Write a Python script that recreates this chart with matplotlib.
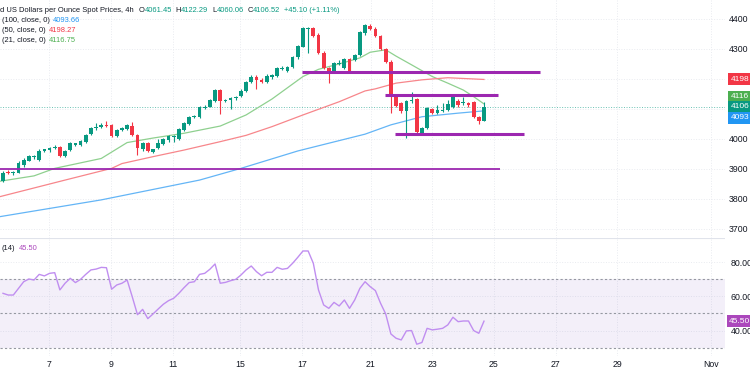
import matplotlib.pyplot as plt
import matplotlib.transforms as mtransforms

plt.rcParams['font.family'] = ['Liberation Sans', 'DejaVu Sans']

# 4h candles, Oct 6 - Oct 24
opens = [3861, 3890, 3886, 3888, 3912, 3928, 3939, 3930, 3961, 3962,
         3970, 3972, 3943, 3963, 3981, 3980, 3991, 4016, 4035, 4040,
         4048, 4047, 4011, 4030, 4033, 4043, 4013, 3966, 3988, 3958,
         3969, 3983, 3995, 4005, 3999, 4030, 4050, 4073, 4074, 4103,
         4108, 4127, 4163, 4126, 4130, 4135, 4143, 4161, 4191, 4207,
         4197, 4191, 4208, 4210, 4233, 4227, 4241, 4272, 4308, 4366,
         4369, 4347, 4288, 4236, 4224, 4250, 4236, 4266, 4263, 4280,
         4352, 4378, 4367, 4344, 4300, 4258, 4141, 4120, 4093, 4126,
         4133, 4019, 4036, 4100, 4087, 4093, 4097, 4108, 4128, 4119,
         4120, 4122, 4074, 4061.45]
highs = [3892, 3895, 3893, 3925, 3935, 3948, 3946, 3966, 3968, 3974,
         3980, 3978, 3963, 3991, 3988, 3996, 4016, 4040, 4052, 4052,
         4060, 4050, 4034, 4040, 4049, 4058, 4018, 3991, 3991, 3968,
         4000, 4004, 4013, 4013, 4036, 4055, 4076, 4080, 4110, 4112,
         4133, 4168, 4168, 4134, 4140, 4142, 4165, 4194, 4212, 4214,
         4202, 4215, 4216, 4240, 4242, 4244, 4278, 4314, 4374, 4374,
         4374, 4352, 4292, 4240, 4256, 4262, 4270, 4270, 4284, 4360,
         4384, 4382, 4372, 4348, 4304, 4262, 4145, 4124, 4130, 4158,
         4137, 4040, 4106, 4104, 4112, 4120, 4130, 4150, 4133, 4140,
         4124, 4126, 4078, 4122.29]
lows = [3858, 3882, 3880, 3885, 3908, 3925, 3934, 3925, 3955, 3958,
        3966, 3940, 3940, 3960, 3977, 3977, 3988, 4012, 4030, 4036,
        4040, 4006, 4008, 4026, 4030, 4010, 3947, 3960, 3955, 3952,
        3965, 3980, 3991, 3990, 3996, 4026, 4046, 4069, 4071, 4100,
        4105, 4124, 4083, 4122, 4100, 4131, 4140, 4158, 4188, 4167,
        4188, 4188, 4200, 4207, 4230, 4224, 4238, 4268, 4305, 4285,
        4340, 4284, 4232, 4188, 4220, 4245, 4232, 4220, 4259, 4276,
        4348, 4362, 4340, 4296, 4254, 4087, 4105, 4088, 4004, 4120,
        4018, 4014, 4032, 4082, 4083, 4089, 4093, 4104, 4106, 4112,
        4108, 4070, 4050, 4060.06]
closes = [3888, 3886, 3889, 3921, 3930, 3943, 3943, 3961, 3965, 3970,
          3973, 3944, 3960, 3988, 3985, 3993, 4013, 4036, 4040, 4048,
          4044, 4011, 4030, 4035, 4046, 4013, 3969, 3988, 3960, 3965,
          3988, 3999, 4010, 4010, 4032, 4052, 4072, 4077, 4106, 4108,
          4130, 4163, 4127, 4130, 4135, 4139, 4161, 4190, 4208, 4197,
          4191, 4211, 4212, 4236, 4237, 4240, 4274, 4310, 4369, 4369,
          4343, 4288, 4236, 4227, 4252, 4254, 4266, 4224, 4280, 4355,
          4380, 4367, 4344, 4300, 4258, 4147, 4111, 4093, 4127, 4129,
          4024, 4036, 4103, 4087, 4097, 4097, 4117, 4141, 4112, 4121,
          4112, 4074, 4061, 4106.52]

# moving averages read at selected bars
ma21_bars = [-1, 6, 10, 19, 24, 29, 35, 42, 47, 52, 58, 61, 65, 69, 71, 74, 76, 79, 83, 86, 89, 91, 93]
ma21_vals = [3858, 3877, 3902, 3935, 3988, 4003, 4019, 4043, 4080, 4133, 4208, 4232, 4250, 4270, 4289,
             4297, 4276, 4247, 4208, 4186, 4163, 4141, 4116.75]
ma50_bars = [-1, 12, 21, 23, 29, 35, 42, 47, 52, 58, 65, 70, 72, 76, 81, 86, 93]
ma50_vals = [3806, 3863, 3902, 3918, 3941, 3963, 3991, 4012, 4041, 4080, 4124, 4160, 4167, 4186, 4197, 4204, 4198.27]
ma100_bars = [-1, 19, 38, 46, 57, 70, 75, 81, 88, 93]
ma100_vals = [3740, 3797, 3863, 3902, 3960, 4016, 4047, 4074, 4086, 4093.66]

# RSI(14)
rsi = [61.8, 60.8, 60.8, 64.7, 68.6, 70.2, 69.6, 72.9, 72.0, 73.5,
       73.9, 63.8, 67.7, 70.6, 68.1, 70.0, 72.9, 75.5, 76.0, 77.0,
       76.8, 64.2, 66.7, 67.7, 69.6, 59.7, 49.3, 52.4, 47.0, 49.7,
       52.6, 55.4, 57.5, 58.9, 61.8, 65.1, 68.1, 68.6, 72.9, 73.5,
       75.9, 79.0, 67.7, 68.2, 69.2, 70.0, 72.5, 75.5, 77.8, 74.5,
       72.1, 74.1, 74.1, 77.0, 75.9, 76.4, 79.4, 82.9, 86.6, 86.6,
       79.4, 63.8, 55.0, 53.0, 56.5, 54.4, 57.9, 53.0, 57.9, 64.7,
       68.6, 65.7, 63.4, 56.0, 49.7, 38.0, 35.5, 34.5, 39.8, 40.0,
       32.0, 33.0, 41.3, 40.4, 40.8, 41.3, 43.3, 47.8, 45.2, 45.6,
       45.6, 40.0, 38.4, 45.5]

# hand-drawn levels: (price, first bar, last bar, width)
levels = [(3900, -1, 96, 1.3), (4222, 57.8, 103.8, 2.2), (4147, 73.9, 95.8, 2.2), (4016, 75.8, 100.8, 2.2)]

price_ticks = [3700, 3800, 3900, 4000, 4100, 4200, 4300, 4400]
price_labels = ['3700', '3800', '3900', '4000', '', '', '4300', '4400']
date_labels = ['7', '9', '11', '15', '17', '21', '23', '25', '27', '29', 'Nov']
date_pos = [8.9, 20.8, 32.9, 45.9, 57.9, 71.1, 83.0, 94.9, 106.9, 118.8, 136.9]

GREEN = '#089981'
RED = '#f23645'
DARK = '#131722'
GRID = '#e9ebf0'

fig = plt.figure(figsize=(7.5, 3.75), dpi=100)
ax = fig.add_axes([0, 137 / 375, 725 / 750, 238 / 375])
rx = fig.add_axes([0, 19 / 375, 725 / 750, 118 / 375])

for a in (ax, rx):
    for s in a.spines.values():
        s.set_visible(False)
    a.set_xlim(-0.58, 139.6)
    a.set_xticks(date_pos)
    a.grid(True, color=GRID, linestyle=':', linewidth=0.7)
    a.set_axisbelow(True)
    a.yaxis.tick_right()
    a.tick_params(length=0, labelsize=6.3, labelcolor=DARK)

ax.set_ylim(3670, 4463)
ax.set_yticks(price_ticks)
ax.set_yticklabels(price_labels)
ax.tick_params(axis='y', pad=3)
ax.set_xticklabels([])

# candles
idx = list(range(len(closes)))
cols = [GREEN if c >= o else RED for o, c in zip(opens, closes)]
ax.vlines(idx, lows, highs, colors=cols, linewidth=0.8, zorder=3)
bodies = [max(abs(c - o), 2.5) for o, c in zip(opens, closes)]
bottoms = [min(o, c) for o, c in zip(opens, closes)]
ax.bar(idx, bodies, bottom=bottoms, width=0.72, color=cols, zorder=4)

ax.plot(ma21_bars, ma21_vals, color='#8fd08f', lw=0.9, zorder=2)
ax.plot(ma50_bars, ma50_vals, color='#f7868b', lw=0.9, zorder=2)
ax.plot(ma100_bars, ma100_vals, color='#64b5f6', lw=0.9, zorder=2)

for price, x0, x1, w in levels:
    ax.hlines(price, x0, x1, color='#9c27b0', lw=w, zorder=5)

ax.axhline(closes[-1], color=GREEN, ls=':', lw=0.7, alpha=0.6, zorder=1)

# price tags on the right axis
trans = mtransforms.blended_transform_factory(ax.transAxes, ax.transData)
tags = [(ma50_vals[-1], '#f23645', 0), (ma21_vals[-1], '#4caf50', 5), (closes[-1], GREEN, 0),
        (ma100_vals[-1], '#2196f3', -5)]
for val, col, off in tags:
    ax.annotate(f'{int(val)}', xy=(1.0, val), xycoords=trans, xytext=(4, off), textcoords='offset points',
                ha='left', va='center', fontsize=6, color='white', annotation_clip=False,
                bbox=dict(boxstyle='square,pad=0.3', fc=col, ec='none'))

# RSI panel
rx.set_ylim(25.1, 94.2)
rx.set_yticks([40, 60, 80])
rx.set_yticklabels(['40.00', '60.00', '80.00'])
rx.tick_params(axis='y', pad=4)
rx.set_xticklabels(date_labels)
rx.tick_params(axis='x', pad=3, labelcolor=DARK)
rx.axhspan(30, 70, color='#7e57c2', alpha=0.09, lw=0)
for lv in (30, 50, 70):
    rx.axhline(lv, color='#9598a1', ls=(0, (2, 2)), lw=0.8)
rx.plot(range(len(rsi)), rsi, color='#c08ef0', lw=1.0)
rx.axhline(94.2, color='#e0e3eb', lw=0.8)
rtrans = mtransforms.blended_transform_factory(rx.transAxes, rx.transData)
rx.annotate(f'{rsi[-1]:.2f}', xy=(1.0, rsi[-1]), xycoords=rtrans, xytext=(3, 0), textcoords='offset points',
            ha='left', va='center', fontsize=6, color='white', annotation_clip=False,
            bbox=dict(boxstyle='square,pad=0.3', fc='#ab47bc', ec='none'))

# legend rows
renderer = fig.canvas.get_renderer()


def chain(parts, x, y, size=5.4):
    for s, col, gap in parts:
        t = fig.text(x / 750, 1 - y / 375, s, color=col, fontsize=size, va='center', ha='left')
        bb = t.get_window_extent(renderer)
        x = bb.x1 + gap


chain([('d US Dollars per Ounce Spot Prices, 4h', DARK, 5),
       ('O', DARK, 0), (f'{opens[-1]:.2f}', GREEN, 4),
       ('H', DARK, 0), (f'{highs[-1]:.2f}', GREEN, 4),
       ('L', DARK, 0), (f'{lows[-1]:.2f}', GREEN, 4),
       ('C', DARK, 0), (f'{closes[-1]:.2f}', GREEN, 4),
       ('+45.10 (+1.11%)', GREEN, 0)], 0, 10)
chain([('(100, close, 0)', DARK, 3), (f'{ma100_vals[-1]:.2f}', '#2196f3', 0)], 2, 20.5)
chain([('(50, close, 0)', DARK, 3), (f'{ma50_vals[-1]:.2f}', '#f23645', 0)], 2, 30.5)
chain([('(21, close, 0)', DARK, 3), (f'{ma21_vals[-1]:.2f}', '#4caf50', 0)], 2, 40.5)
chain([('(14)', DARK, 3), (f'{rsi[-1]:.2f}', '#ab47bc', 0)], 2, 248)

fig.savefig('out.png', dpi=100, facecolor='white')
